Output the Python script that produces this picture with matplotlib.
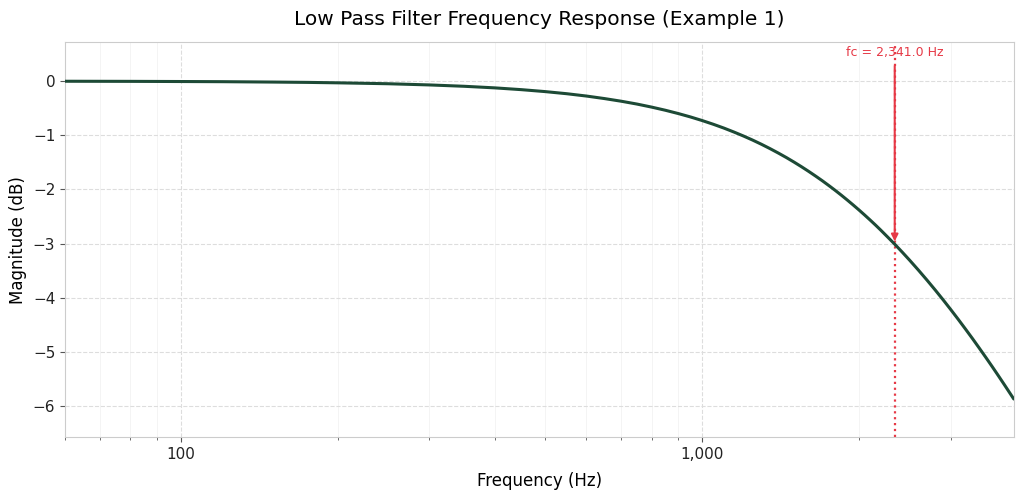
import matplotlib
matplotlib.use("Agg")
import matplotlib.pyplot as plt
from matplotlib.ticker import FuncFormatter, LogLocator, NullFormatter

# values
freqs = [60, 80, 100, 120, 150, 175, 200, 250, 300, 350, 400, 450, 500, 550,
         600, 650, 700, 750, 800, 850, 900, 950, 1000, 1050, 1100, 1150, 1200,
         1250, 1300, 1350, 1400, 1450, 1500, 1550, 1600, 1650, 1700, 1750,
         1800, 1850, 1900, 1950, 2000, 2050, 2100, 2150, 2200, 2270, 2341,
         2420, 2500, 2600, 2700, 2800, 2900, 3000, 3100, 3200, 3300, 3400,
         3500, 3600, 3700, 3800, 3900, 3960]
mags = [-0.003, -0.005, -0.008, -0.011, -0.018, -0.024, -0.032, -0.049, -0.071,
        -0.096, -0.125, -0.158, -0.194, -0.233, -0.276, -0.323, -0.372, -0.424,
        -0.480, -0.538, -0.599, -0.662, -0.728, -0.796, -0.866, -0.939, -1.013,
        -1.089, -1.167, -1.247, -1.328, -1.410, -1.494, -1.579, -1.665, -1.752,
        -1.839, -1.928, -2.017, -2.107, -2.198, -2.289, -2.380, -2.472, -2.564,
        -2.656, -2.749, -2.880, -3.010, -3.157, -3.305, -3.490, -3.674, -3.857,
        -4.039, -4.220, -4.399, -4.577, -4.752, -4.927, -5.099, -5.269, -5.438,
        -5.605, -5.770, -5.867]
fc = 2341.0
fc_mag = -3.01

line_color = "#1d4a36"
red = "#e63946"

fig, ax = plt.subplots(figsize=(10.24, 4.95), dpi=100)
fig.subplots_adjust(left=0.0635, right=0.990, top=0.915, bottom=0.117)

ax.semilogx(freqs, mags, color=line_color, linewidth=2.2, zorder=3,
            solid_joinstyle="round", solid_capstyle="round")
ax.axvline(fc, color=red, linestyle=":", linewidth=1.6, zorder=2)
ax.annotate("", xy=(fc, fc_mag), xytext=(fc, 0.33),
            arrowprops=dict(arrowstyle="-|>", color=red, lw=1.5, mutation_scale=10),
            zorder=4)
ax.text(fc, 0.52, "fc = 2,341.0 Hz", color=red, fontsize=9,
        ha="center", va="center", zorder=5)

ax.set_xlim(60, 3960)
ax.set_ylim(-6.57, 0.72)
ax.set_yticks([0, -1, -2, -3, -4, -5, -6])
ax.xaxis.set_major_locator(LogLocator(base=10))
ax.xaxis.set_minor_locator(LogLocator(base=10, subs=range(2, 10)))
ax.xaxis.set_major_formatter(FuncFormatter(lambda v, p: f"{v:,.0f}"))
ax.xaxis.set_minor_formatter(NullFormatter())

ax.grid(True, which="major", linestyle="--", color="#dddddd", linewidth=0.8)
ax.grid(True, which="minor", axis="x", linestyle="-", color="#f3f3f3", linewidth=0.6)
ax.set_axisbelow(True)

for s in ax.spines.values():
    s.set_color("#cccccc")
ax.tick_params(colors="#222222", labelsize=11)
ax.tick_params(which="both", color="#555555")

ax.set_title("Low Pass Filter Frequency Response (Example 1)", fontsize=14.5, pad=12)
ax.set_xlabel("Frequency (Hz)", fontsize=12, labelpad=7)
ax.set_ylabel("Magnitude (dB)", fontsize=12)

fig.savefig("out.png", dpi=100)
